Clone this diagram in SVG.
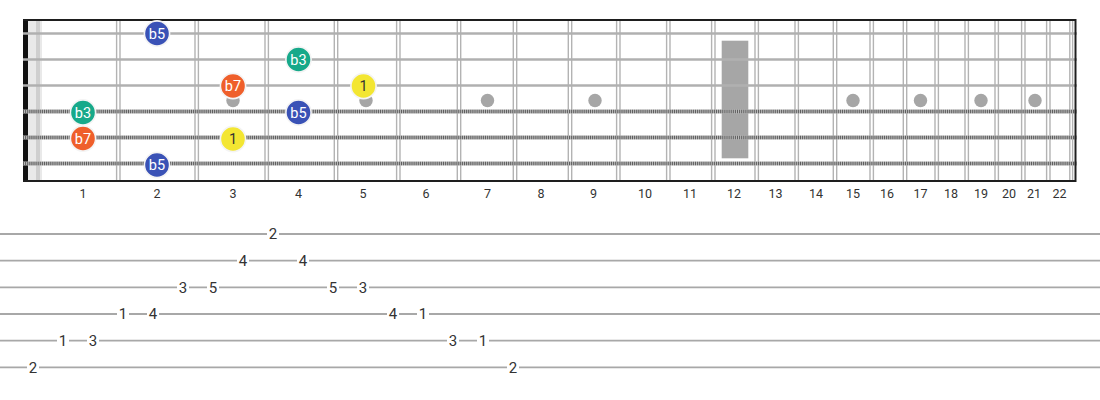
<svg xmlns="http://www.w3.org/2000/svg" width="1100" height="400" viewBox="0 0 1100 400">
<style>
.fret{stroke:#b3b3b3;stroke-width:1.4}
.border{stroke:#1e1e1e;stroke-width:2}
.plain{stroke:#b0b0b0;stroke-width:2.6}
.woundbase{stroke:#b8b8b8;stroke-width:4.2}
.wound{stroke:#5e5e5e;stroke-width:3.4;stroke-dasharray:1 1.1}
.inlay{fill:#a6a6a6}
.fn{font-family:Roboto,"Liberation Sans",sans-serif;font-size:12.5px;fill:#333;text-anchor:middle}
.note circle{stroke:#f4f4f4;stroke-width:1.6}
.note text{font-family:Roboto,"Liberation Sans",sans-serif;font-size:14.5px;text-anchor:middle;fill:#fff}
.b5 circle{fill:#3a52b6}
.b3 circle{fill:#17a98a}
.b7 circle{fill:#ef5f2b}
.r1 circle{fill:#f3e632}
.r1 text{fill:#333}
.tabline{stroke:#a8a8a8;stroke-width:1.8}
.tab rect{fill:#fff}
.tab text{font-family:Roboto,"Liberation Sans",sans-serif;font-size:15px;fill:#333;text-anchor:middle}
</style>
<rect width="1100" height="400" fill="#fff"/>

<g id="fretboard">
  <rect x="28" y="20" width="14" height="161" fill="#e9e9e9"/>
  <rect x="36" y="20" width="4" height="161" fill="#cfcfcf"/>
  <g id="frets">
    <g class="fret">
      <line x1="116.6" y1="20" x2="116.6" y2="181"/><line x1="120" y1="20" x2="120" y2="181"/>
      <line x1="195" y1="20" x2="195" y2="181"/><line x1="198.4" y1="20" x2="198.4" y2="181"/>
      <line x1="265" y1="20" x2="265" y2="181"/><line x1="268.4" y1="20" x2="268.4" y2="181"/>
      <line x1="334.3" y1="20" x2="334.3" y2="181"/><line x1="337.7" y1="20" x2="337.7" y2="181"/>
      <line x1="396.6" y1="20" x2="396.6" y2="181"/><line x1="400" y1="20" x2="400" y2="181"/>
      <line x1="457.3" y1="20" x2="457.3" y2="181"/><line x1="460.7" y1="20" x2="460.7" y2="181"/>
      <line x1="513.3" y1="20" x2="513.3" y2="181"/><line x1="516.7" y1="20" x2="516.7" y2="181"/>
      <line x1="568.3" y1="20" x2="568.3" y2="181"/><line x1="571.7" y1="20" x2="571.7" y2="181"/>
      <line x1="616.6" y1="20" x2="616.6" y2="181"/><line x1="620" y1="20" x2="620" y2="181"/>
      <line x1="666.6" y1="20" x2="666.6" y2="181"/><line x1="670" y1="20" x2="670" y2="181"/>
      <line x1="711.6" y1="20" x2="711.6" y2="181"/><line x1="715" y1="20" x2="715" y2="181"/>
      <line x1="755" y1="20" x2="755" y2="181"/><line x1="758.4" y1="20" x2="758.4" y2="181"/>
      <line x1="795" y1="20" x2="795" y2="181"/><line x1="798.4" y1="20" x2="798.4" y2="181"/>
      <line x1="833.3" y1="20" x2="833.3" y2="181"/><line x1="836.7" y1="20" x2="836.7" y2="181"/>
      <line x1="870" y1="20" x2="870" y2="181"/><line x1="873.4" y1="20" x2="873.4" y2="181"/>
      <line x1="903.3" y1="20" x2="903.3" y2="181"/><line x1="906.7" y1="20" x2="906.7" y2="181"/>
      <line x1="935" y1="20" x2="935" y2="181"/><line x1="938.4" y1="20" x2="938.4" y2="181"/>
      <line x1="965" y1="20" x2="965" y2="181"/><line x1="968.4" y1="20" x2="968.4" y2="181"/>
      <line x1="995" y1="20" x2="995" y2="181"/><line x1="998.4" y1="20" x2="998.4" y2="181"/>
      <line x1="1021.6" y1="20" x2="1021.6" y2="181"/><line x1="1025" y1="20" x2="1025" y2="181"/>
      <line x1="1046.6" y1="20" x2="1046.6" y2="181"/><line x1="1050" y1="20" x2="1050" y2="181"/>
      <line x1="1069.8" y1="20" x2="1069.8" y2="181"/><line x1="1072.6" y1="20" x2="1072.6" y2="181"/>
    </g>
  </g>
  <g id="inlays" class="inlay">
    <circle cx="233" cy="100.5" r="6.7"/>
    <circle cx="366" cy="100.5" r="6.7"/>
    <circle cx="487.5" cy="100.5" r="6.7"/>
    <circle cx="595" cy="100.5" r="6.7"/>
    <rect x="721.7" y="40.7" width="26.6" height="117.6"/>
    <circle cx="853" cy="100.5" r="6.7"/>
    <circle cx="920.5" cy="100.5" r="6.7"/>
    <circle cx="981" cy="100.5" r="6.7"/>
    <circle cx="1035" cy="100.5" r="6.7"/>
  </g>
  <rect x="23" y="19" width="5" height="163" fill="#111"/>
  <g id="strings">
    <line class="plain" x1="23" y1="33.5" x2="1077" y2="33.5"/>
    <line class="plain" x1="23" y1="59.5" x2="1077" y2="59.5"/>
    <line class="plain" x1="23" y1="85.5" x2="1077" y2="85.5"/>
    <line class="woundbase" x1="23" y1="111.5" x2="1077" y2="111.5"/>
    <line class="wound" x1="23" y1="111.5" x2="1077" y2="111.5"/>
    <line class="woundbase" x1="23" y1="137.5" x2="1077" y2="137.5"/>
    <line class="wound" x1="23" y1="137.5" x2="1077" y2="137.5"/>
    <line class="woundbase" x1="23" y1="163.5" x2="1077" y2="163.5"/>
    <line class="wound" x1="23" y1="163.5" x2="1077" y2="163.5"/>
  </g>
  <line class="border" x1="23" y1="20" x2="1076" y2="20"/>
  <line class="border" x1="23" y1="181" x2="1076" y2="181"/>
  <line class="border" x1="1075.5" y1="19" x2="1075.5" y2="182"/>
</g>

<g id="fret-numbers" class="fn">
  <text x="83" y="198">1</text>
  <text x="157" y="198">2</text>
  <text x="233" y="198">3</text>
  <text x="298.5" y="198">4</text>
  <text x="363" y="198">5</text>
  <text x="426" y="198">6</text>
  <text x="487.5" y="198">7</text>
  <text x="541" y="198">8</text>
  <text x="593.5" y="198">9</text>
  <text x="645" y="198">10</text>
  <text x="690" y="198">11</text>
  <text x="734" y="198">12</text>
  <text x="775.5" y="198">13</text>
  <text x="816" y="198">14</text>
  <text x="853" y="198">15</text>
  <text x="887" y="198">16</text>
  <text x="920.5" y="198">17</text>
  <text x="951" y="198">18</text>
  <text x="981" y="198">19</text>
  <text x="1009" y="198">20</text>
  <text x="1034" y="198">21</text>
  <text x="1059.5" y="198">22</text>
</g>

<g id="notes">
  <g id="n-s1-f2" class="note b5"><circle cx="157" cy="33.5" r="12.6"/><text x="157" y="38.6">b5</text></g>
  <g id="n-s2-f4" class="note b3"><circle cx="298.5" cy="59.5" r="12.6"/><text x="298.5" y="64.6">b3</text></g>
  <g id="n-s3-f3" class="note b7"><circle cx="233" cy="86" r="12.6"/><text x="233" y="91.1">b7</text></g>
  <g id="n-s3-f5" class="note r1"><circle cx="363.5" cy="86" r="12.6"/><text x="363.5" y="91.1">1</text></g>
  <g id="n-s4-f1" class="note b3"><circle cx="83" cy="112.5" r="12.6"/><text x="83" y="117.6">b3</text></g>
  <g id="n-s4-f4" class="note b5"><circle cx="298.5" cy="112.5" r="12.6"/><text x="298.5" y="117.6">b5</text></g>
  <g id="n-s5-f1" class="note b7"><circle cx="83" cy="138.5" r="12.6"/><text x="83" y="143.6">b7</text></g>
  <g id="n-s5-f3" class="note r1"><circle cx="233" cy="139" r="12.6"/><text x="233" y="144.1">1</text></g>
  <g id="n-s6-f2" class="note b5"><circle cx="157" cy="165" r="12.6"/><text x="157" y="170.1">b5</text></g>
</g>

<g id="tab">
  <g id="tab-lines" class="tabline">
    <line x1="0" y1="234" x2="1100" y2="234"/>
    <line x1="0" y1="260.7" x2="1100" y2="260.7"/>
    <line x1="0" y1="287.4" x2="1100" y2="287.4"/>
    <line x1="0" y1="314" x2="1100" y2="314"/>
    <line x1="0" y1="340.7" x2="1100" y2="340.7"/>
    <line x1="0" y1="367.4" x2="1100" y2="367.4"/>
  </g>
  <g id="tab-numbers" class="tab">
    <g id="t1"><rect x="27" y="359" width="12" height="17"/><text x="33" y="372.7">2</text></g>
    <g id="t2"><rect x="57" y="332" width="12" height="17"/><text x="63" y="346">1</text></g>
    <g id="t3"><rect x="87" y="332" width="12" height="17"/><text x="93" y="346">3</text></g>
    <g id="t4"><rect x="117" y="306" width="12" height="17"/><text x="123" y="319.3">1</text></g>
    <g id="t5"><rect x="147" y="306" width="12" height="17"/><text x="153" y="319.3">4</text></g>
    <g id="t6"><rect x="177" y="279" width="12" height="17"/><text x="183" y="292.7">3</text></g>
    <g id="t7"><rect x="207" y="279" width="12" height="17"/><text x="213" y="292.7">5</text></g>
    <g id="t8"><rect x="237" y="252" width="12" height="17"/><text x="243" y="266">4</text></g>
    <g id="t9"><rect x="267" y="226" width="12" height="17"/><text x="273" y="239.3">2</text></g>
    <g id="t10"><rect x="297" y="252" width="12" height="17"/><text x="303" y="266">4</text></g>
    <g id="t11"><rect x="327" y="279" width="12" height="17"/><text x="333" y="292.7">5</text></g>
    <g id="t12"><rect x="357" y="279" width="12" height="17"/><text x="363" y="292.7">3</text></g>
    <g id="t13"><rect x="387" y="306" width="12" height="17"/><text x="393" y="319.3">4</text></g>
    <g id="t14"><rect x="417" y="306" width="12" height="17"/><text x="423" y="319.3">1</text></g>
    <g id="t15"><rect x="447" y="332" width="12" height="17"/><text x="453" y="346">3</text></g>
    <g id="t16"><rect x="477" y="332" width="12" height="17"/><text x="483" y="346">1</text></g>
    <g id="t17"><rect x="507" y="359" width="12" height="17"/><text x="513" y="372.7">2</text></g>
  </g>
</g>
</svg>
